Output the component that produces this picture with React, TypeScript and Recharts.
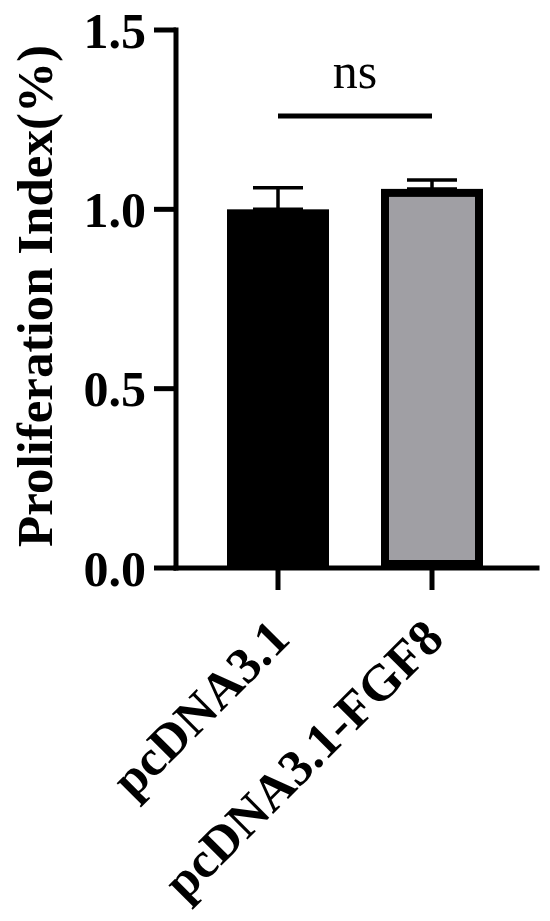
import { BarChart, Bar, XAxis, YAxis, ErrorBar, ReferenceLine, Label } from 'recharts';

const groups = ['pcDNA3.1', 'pcDNA3.1-FGF8'];
const means = [1.0, 1.057];
const errUp = [0.06, 0.025];
const barFills = ['#000000', '#a09fa4'];
const yTicks = [0, 0.5, 1.0, 1.5];
const sigLevel = 1.26;
const sigText = 'ns';
const yTitle = 'Proliferation Index(%)';

const data = groups.map((g, i) => ({ group: g, mean: means[i], err: [0, errUp[i]] }));

const FONT = '"Liberation Serif", "Times New Roman", serif';

// bar with the thick black border drawn inside its box
function BorderedBar(props: any) {
  const { x, y, width, height, index } = props;
  const sw = 8;
  return (
    <rect
      x={x + sw / 2}
      y={y + sw / 2}
      width={width - sw}
      height={Math.max(height - sw, 0)}
      fill={barFills[index]}
      stroke="#000"
      strokeWidth={sw}
    />
  );
}

function GroupTick(props: any) {
  const { x, y, payload } = props;
  return (
    <g transform={`translate(${x + 14},${y + 49})`}>
      <text
        x={0}
        y={0}
        textAnchor="end"
        transform="rotate(-45)"
        fill="#000"
        fontFamily={FONT}
        fontWeight="bold"
        fontSize={51}
      >
        {payload.value}
      </text>
    </g>
  );
}

function YTitle() {
  return (
    <text
      x={52}
      y={296}
      textAnchor="middle"
      transform="rotate(-90, 52, 296)"
      fill="#000"
      fontFamily={FONT}
      fontWeight="bold"
      fontSize={51}
    >
      {yTitle}
    </text>
  );
}

export default function App() {
  const axisLine = { stroke: '#000', strokeWidth: 5, strokeLinecap: 'square' as const };
  const tickLine = { stroke: '#000', strokeWidth: 5 };
  return (
    <div style={{ position: 'absolute', left: 0, top: 0, background: '#fff' }}>
      <BarChart width={550} height={921} data={data} margin={{ top: 30, right: 13, bottom: 0, left: 0 }}>
        <XAxis
          dataKey="group"
          height={353}
          padding={{ left: 25, right: 28 }}
          axisLine={axisLine}
          tickLine={tickLine}
          tickSize={22}
          tick={<GroupTick />}
          interval={0}
        />
        <YAxis
          width={176}
          domain={[0, 1.5]}
          ticks={yTicks}
          tickFormatter={(v: number) => v.toFixed(1)}
          axisLine={axisLine}
          tickLine={tickLine}
          tickSize={22}
          tickMargin={8}
          tick={{ fill: '#000', fontFamily: FONT, fontWeight: 'bold', fontSize: 50 }}
        >
          <Label content={<YTitle />} />
        </YAxis>
        <Bar dataKey="mean" barSize={102} shape={<BorderedBar />} isAnimationActive={false}>
          <ErrorBar dataKey="err" width={25} stroke="#000" strokeWidth={3.5} direction="y" />
        </Bar>
        <ReferenceLine
          segment={[
            { x: groups[0], y: sigLevel },
            { x: groups[1], y: sigLevel },
          ]}
          stroke="#000"
          strokeWidth={5}
          ifOverflow="visible"
        >
          <Label
            value={sigText}
            position="top"
            offset={28}
            fill="#000"
            fontFamily={FONT}
            fontSize={50}
          />
        </ReferenceLine>
      </BarChart>
    </div>
  );
}
